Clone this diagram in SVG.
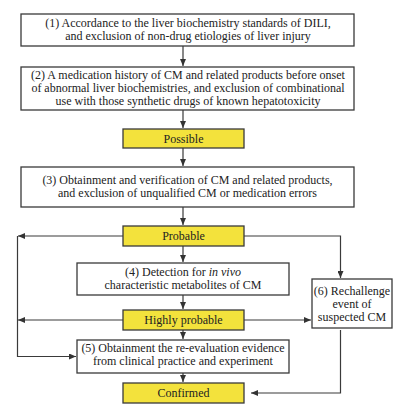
<svg xmlns="http://www.w3.org/2000/svg" width="410" height="410" viewBox="0 0 410 410">
<defs>
<marker id="ah" markerUnits="userSpaceOnUse" markerWidth="7" markerHeight="6" viewBox="0 0 7 6" refX="7" refY="3" orient="auto">
<path d="M0,0 L7,3 L0,6 Z" fill="#333"/>
</marker>
<style>
.box{fill:#fff;stroke:#3a3a3a;stroke-width:1.3}
.yel{fill:#f3e23c;stroke:#3a3a3a;stroke-width:1.3}
.t{font-family:"Liberation Serif","Times New Roman",serif;font-size:12px;fill:#222;text-anchor:middle}
.c{fill:none;stroke:#3a3a3a;stroke-width:1.2;marker-end:url(#ah)}
.n{fill:none;stroke:#3a3a3a;stroke-width:1.2}
</style>
</defs>
<rect width="410" height="410" fill="#fff"/>
<g id="n1"><rect class="box" x="21" y="14" width="333" height="32"/>
<text class="t" x="188" y="27">(1) Accordance to the liver biochemistry standards of DILI,</text>
<text class="t" x="188" y="40">and exclusion of non-drug etiologies of liver injury</text></g>
<g id="n2"><rect class="box" x="21" y="67" width="333" height="43"/>
<text class="t" x="188" y="79">(2) A medication history of CM and related products before onset</text>
<text class="t" x="188" y="92">of abnormal liver biochemistries, and exclusion of combinational</text>
<text class="t" x="188" y="105">use with those synthetic drugs of known hepatotoxicity</text></g>
<g id="possible"><rect class="yel" x="123" y="129" width="121" height="19"/>
<text class="t" x="183.5" y="143">Possible</text></g>
<g id="n3"><rect class="box" x="21" y="167" width="333" height="40"/>
<text class="t" x="187.5" y="184">(3) Obtainment and verification of CM and related products,</text>
<text class="t" x="187.5" y="197">and exclusion of unqualified CM or medication errors</text></g>
<g id="probable"><rect class="yel" x="123" y="226" width="121" height="20"/>
<text class="t" x="183.5" y="240">Probable</text></g>
<g id="n4"><rect class="box" x="77" y="263" width="212" height="32"/>
<text class="t" x="183" y="276">(4) Detection for <tspan font-style="italic">in vivo</tspan></text>
<text class="t" x="183" y="289">characteristic metabolites of CM</text></g>
<g id="highly"><rect class="yel" x="123" y="310" width="121" height="20"/>
<text class="t" x="183.5" y="324">Highly probable</text></g>
<g id="n5"><rect class="box" x="77" y="340" width="212" height="33"/>
<text class="t" x="183" y="352">(5) Obtainment the re-evaluation evidence</text>
<text class="t" x="183" y="365">from clinical practice and experiment</text></g>
<g id="confirmed"><rect class="yel" x="123" y="383" width="121" height="20"/>
<text class="t" x="183.5" y="397">Confirmed</text></g>
<g id="n6"><rect class="box" x="312" y="279" width="80" height="49"/>
<text class="t" x="352" y="295">(6) Rechallenge</text>
<text class="t" x="352" y="308">event of</text>
<text class="t" x="352" y="321">suspected CM</text></g>
<g id="connectors">
<path class="c" d="M183,46 V66"/>
<path class="c" d="M183,110 V128"/>
<path class="c" d="M183,148 V166"/>
<path class="c" d="M183,207 V225"/>
<path class="c" d="M183,246 V262"/>
<path class="c" d="M183,295 V309"/>
<path class="c" d="M183,330 V339"/>
<path class="c" d="M183,373 V382"/>
<path class="c" d="M123,236 H18"/>
<path class="c" d="M123,320 H18"/>
<path class="c" d="M17.5,236 V356.5 H76"/>
<path class="c" d="M244,236 H340.5 V278"/>
<path class="c" d="M244,320 H311"/>
<path class="c" d="M340.5,330 V393 H251"/>
</g>
</svg>
